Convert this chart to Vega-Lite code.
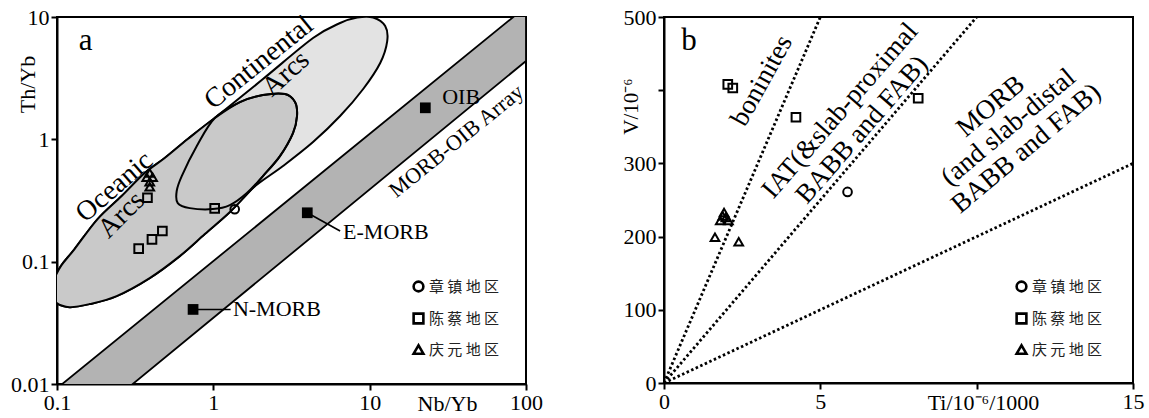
{
  "$schema": "https://vega.github.io/schema/vega-lite/v6.json",
  "background": "white",
  "padding": {"left": 9, "top": 5, "right": 0, "bottom": 0},
  "spacing": 75,
  "config": {
    "view": {"stroke": "black", "strokeWidth": 2},
    "font": "Liberation Serif",
    "text": {"font": "Liberation Serif", "color": "black"},
    "axis": {
      "grid": false, "domainColor": "black", "domainWidth": 2,
      "tickColor": "black", "tickWidth": 2, "tickSize": 6,
      "labelFont": "Liberation Serif", "labelFontSize": 22, "labelColor": "black", "labelPadding": 2,
      "labelFlush": false, "labelOverlap": false,
      "titleFont": "Liberation Serif", "titleFontSize": 22, "titleFontWeight": "normal", "titleColor": "black"
    },
    "legend": {
      "labelFont": "Noto Sans CJK SC", "labelFontSize": 15, "labelColor": "#222",
      "symbolStrokeWidth": 2.6, "symbolSize": 95, "symbolStrokeColor": "black", "symbolFillColor": "transparent",
      "rowPadding": 11, "labelOffset": 3, "padding": 0
    }
  },
  "datasets": {
    "band": [
      {"x": 0.1, "y": 0.00923, "ylow": 0.0031},
      {"x": 100, "y": 12.14, "ylow": 4.37}
    ],
    "bigEllipse": [
      {"x": 0.0895, "y": 0.0575}, {"x": 0.0978, "y": 0.0762}, {"x": 0.1069, "y": 0.0938}, {"x": 0.1295, "y": 0.1268},
      {"x": 0.1818, "y": 0.223}, {"x": 0.2592, "y": 0.3439}, {"x": 0.3638, "y": 0.53}, {"x": 0.4887, "y": 0.7035},
      {"x": 0.6864, "y": 1.006}, {"x": 1.022, "y": 1.494}, {"x": 2.077, "y": 3.11}, {"x": 4.343, "y": 6.73},
      {"x": 6.47, "y": 8.93}, {"x": 8.32, "y": 9.9}, {"x": 10.53, "y": 9.9}, {"x": 12.57, "y": 8.44},
      {"x": 12.95, "y": 6.36}, {"x": 11.68, "y": 4.21}, {"x": 9.09, "y": 2.58}, {"x": 6.47, "y": 1.55},
      {"x": 4.343, "y": 0.95}, {"x": 2.79, "y": 0.605}, {"x": 1.791, "y": 0.4}, {"x": 1.276, "y": 0.2543},
      {"x": 0.882, "y": 0.168}, {"x": 0.61, "y": 0.111}, {"x": 0.3917, "y": 0.0734}, {"x": 0.2406, "y": 0.0523},
      {"x": 0.1615, "y": 0.045}, {"x": 0.1203, "y": 0.0425}, {"x": 0.0978, "y": 0.0467}
    ],
    "oceanic": [
      {"x": 0.0895, "y": 0.0575}, {"x": 0.0978, "y": 0.0762}, {"x": 0.1069, "y": 0.0938}, {"x": 0.1295, "y": 0.1268},
      {"x": 0.1818, "y": 0.223}, {"x": 0.2592, "y": 0.3439}, {"x": 0.3638, "y": 0.53}, {"x": 0.4887, "y": 0.7035},
      {"x": 0.6864, "y": 1.006}, {"x": 1.022, "y": 1.494}, {"x": 1.479, "y": 2.018}, {"x": 2.077, "y": 2.302},
      {"x": 2.873, "y": 2.346}, {"x": 3.33, "y": 2.018}, {"x": 3.43, "y": 1.55}, {"x": 3.233, "y": 1.126},
      {"x": 2.668, "y": 0.73}, {"x": 2.077, "y": 0.501}, {"x": 1.791, "y": 0.4}, {"x": 1.276, "y": 0.2543},
      {"x": 0.882, "y": 0.168}, {"x": 0.61, "y": 0.111}, {"x": 0.3917, "y": 0.0734}, {"x": 0.2406, "y": 0.0523},
      {"x": 0.1615, "y": 0.045}, {"x": 0.1203, "y": 0.0425}, {"x": 0.0978, "y": 0.0467}
    ],
    "inner": [
      {"x": 1.022, "y": 1.494}, {"x": 1.479, "y": 2.018}, {"x": 2.077, "y": 2.302}, {"x": 2.873, "y": 2.346},
      {"x": 3.33, "y": 2.018}, {"x": 3.43, "y": 1.55}, {"x": 3.233, "y": 1.126}, {"x": 2.668, "y": 0.73},
      {"x": 2.077, "y": 0.501}, {"x": 1.639, "y": 0.364}, {"x": 1.276, "y": 0.29}, {"x": 0.993, "y": 0.269},
      {"x": 0.707, "y": 0.274}, {"x": 0.592, "y": 0.301}, {"x": 0.583, "y": 0.378}, {"x": 0.628, "y": 0.501},
      {"x": 0.784, "y": 0.882}
    ],
    "leaders": [
      {"id": "N-MORB", "x": 0.742, "y": 0.0407}, {"id": "N-MORB", "x": 1.29, "y": 0.0407},
      {"id": "E-MORB", "x": 3.99, "y": 0.251}, {"id": "E-MORB", "x": 6.47, "y": 0.178}
    ],
    "refPoints": [
      {"name": "OIB", "x": 22.7, "y": 1.81},
      {"name": "E-MORB", "x": 3.99, "y": 0.251},
      {"name": "N-MORB", "x": 0.742, "y": 0.0407}
    ],
    "samplesA": [
      {"region": "章镇地区", "x": 1.37, "y": 0.268},
      {"region": "陈蔡地区", "x": 0.333, "y": 0.128},
      {"region": "陈蔡地区", "x": 0.405, "y": 0.152},
      {"region": "陈蔡地区", "x": 0.472, "y": 0.178},
      {"region": "陈蔡地区", "x": 1.02, "y": 0.273},
      {"region": "陈蔡地区", "x": 0.379, "y": 0.333},
      {"region": "庆元地区", "x": 0.392, "y": 0.53},
      {"region": "庆元地区", "x": 0.375, "y": 0.49},
      {"region": "庆元地区", "x": 0.409, "y": 0.49},
      {"region": "庆元地区", "x": 0.392, "y": 0.45},
      {"region": "庆元地区", "x": 0.392, "y": 0.41}
    ],
    "boundaries": [
      {"line": "Ti/V=10", "ti": 0, "v": 0}, {"line": "Ti/V=10", "ti": 5, "v": 500},
      {"line": "Ti/V=20", "ti": 0, "v": 0}, {"line": "Ti/V=20", "ti": 10, "v": 500},
      {"line": "Ti/V=50", "ti": 0, "v": 0}, {"line": "Ti/V=50", "ti": 15, "v": 300}
    ],
    "samplesB": [
      {"region": "章镇地区", "ti": 5.87, "v": 261},
      {"region": "陈蔡地区", "ti": 2.04, "v": 408},
      {"region": "陈蔡地区", "ti": 2.2, "v": 403},
      {"region": "陈蔡地区", "ti": 4.22, "v": 363},
      {"region": "陈蔡地区", "ti": 8.13, "v": 389},
      {"region": "庆元地区", "ti": 1.8, "v": 222},
      {"region": "庆元地区", "ti": 1.88, "v": 228},
      {"region": "庆元地区", "ti": 1.92, "v": 233},
      {"region": "庆元地区", "ti": 1.98, "v": 226},
      {"region": "庆元地区", "ti": 2.06, "v": 222},
      {"region": "庆元地区", "ti": 1.63, "v": 199},
      {"region": "庆元地区", "ti": 2.39, "v": 193}
    ]
  },
  "resolve": {"scale": {"shape": "independent"}, "legend": {"shape": "independent"}},
  "hconcat": [
    {
      "width": 469,
      "height": 367,
      "encoding": {
        "x": {"field": "x", "type": "quantitative",
              "scale": {"type": "log", "domain": [0.1, 100], "nice": false},
              "axis": {"values": [0.1, 1, 10, 100], "format": "~g", "title": "Nb/Yb",
                       "titleX": 390, "titleY": 19, "titleAlign": "center", "titleBaseline": "middle"}},
        "y": {"field": "y", "type": "quantitative",
              "scale": {"type": "log", "domain": [0.01, 10], "nice": false},
              "axis": {"values": [0.01, 0.1, 1, 10], "format": "~g", "title": "Th/Yb",
                       "titleX": -30, "titleY": 67, "titleAlign": "center", "titleBaseline": "middle", "titleAngle": 270}}
      },
      "layer": [
        {
          "data": {"name": "band"},
          "mark": {"type": "area", "clip": true, "stroke": "black", "strokeWidth": 1.8, "fill": "#b3b3b3"},
          "encoding": {"y2": {"field": "ylow"}}
        },
        {
          "data": {"name": "bigEllipse"},
          "mark": {"type": "line", "interpolate": "cardinal-closed", "clip": true, "strokeWidth": 2},
          "encoding": {"order": {"value": null}, "fill": {"value": "#e3e3e3"}, "stroke": {"value": "black"}}
        },
        {
          "data": {"name": "oceanic"},
          "mark": {"type": "line", "interpolate": "cardinal-closed", "clip": true, "strokeWidth": 2},
          "encoding": {"order": {"value": null}, "fill": {"value": "#c9c9c9"}, "stroke": {"value": "black"}}
        },
        {
          "data": {"name": "inner"},
          "mark": {"type": "line", "interpolate": "cardinal-closed", "clip": true, "strokeWidth": 2},
          "encoding": {"order": {"value": null}, "stroke": {"value": "black"}}
        },
        {
          "data": {"name": "leaders"},
          "mark": {"type": "line", "strokeWidth": 1.6, "color": "black"},
          "encoding": {"detail": {"field": "id"}, "order": {"value": null}}
        },
        {
          "data": {"name": "refPoints"},
          "mark": {"type": "square", "size": 115, "color": "black", "opacity": 1}
        },
        {
          "data": {"name": "samplesA"},
          "mark": {"type": "point", "filled": false, "color": "black", "strokeWidth": 2, "size": 75, "opacity": 1},
          "encoding": {
            "shape": {"field": "region", "type": "nominal",
                      "scale": {"domain": ["章镇地区", "陈蔡地区", "庆元地区"], "range": ["circle", "square", "triangle-up"]},
                      "legend": {"title": null, "orient": "none", "legendX": 354, "legendY": 262,
                                 "labelExpr": "join(split(datum.label, ''), ' ')"}}
          }
        },
        {
          "data": {"values": [{"text": "a", "x": 0.1523, "y": 6.36}]},
          "mark": {"type": "text", "fontSize": 31, "align": "center", "baseline": "middle"},
          "encoding": {"text": {"field": "text"}}
        },
        {
          "data": {"values": [{"text": "Continental", "x": 1.957, "y": 4.21}]},
          "mark": {"type": "text", "fontSize": 28, "angle": 321, "align": "center", "baseline": "middle"},
          "encoding": {"text": {"field": "text"}}
        },
        {
          "data": {"values": [{"text": "Arcs", "x": 2.915, "y": 3.42}]},
          "mark": {"type": "text", "fontSize": 28, "angle": 318, "align": "center", "baseline": "middle"},
          "encoding": {"text": {"field": "text"}}
        },
        {
          "data": {"values": [{"text": "Oceanic", "x": 0.2337, "y": 0.407}]},
          "mark": {"type": "text", "fontSize": 28, "angle": 319, "align": "center", "baseline": "middle"},
          "encoding": {"text": {"field": "text"}}
        },
        {
          "data": {"values": [{"text": "Arcs", "x": 0.259, "y": 0.24}]},
          "mark": {"type": "text", "fontSize": 28, "angle": 315, "align": "center", "baseline": "middle"},
          "encoding": {"text": {"field": "text"}}
        },
        {
          "data": {"values": [{"text": "MORB-OIB Array", "x": 35.8, "y": 0.968}]},
          "mark": {"type": "text", "fontSize": 22, "angle": 321, "align": "center", "baseline": "middle"},
          "encoding": {"text": {"field": "text"}}
        },
        {
          "data": {"values": [
            {"text": "OIB", "x": 29.1, "y": 2.22},
            {"text": "E-MORB", "x": 6.76, "y": 0.1746},
            {"text": "N-MORB", "x": 1.334, "y": 0.041}
          ]},
          "mark": {"type": "text", "fontSize": 22, "align": "left", "baseline": "middle"},
          "encoding": {"text": {"field": "text"}}
        }
      ]
    },
    {
      "width": 469,
      "height": 366,
      "encoding": {
        "x": {"field": "ti", "type": "quantitative",
              "scale": {"domain": [0, 15], "nice": false, "zero": false},
              "axis": {"values": [0, 5, 10, 15], "labelExpr": "datum.value == 10 ? '' : datum.label",
                       "title": "Ti/10⁻⁶/1000", "titleX": 319, "titleY": 19, "titleAlign": "center", "titleBaseline": "middle"}},
        "y": {"field": "v", "type": "quantitative",
              "scale": {"domain": [0, 500], "nice": false, "zero": false},
              "axis": {"values": [0, 100, 200, 300, 400, 500], "labelExpr": "datum.value == 400 ? '' : datum.label",
                       "title": "V/10⁻⁶", "titleX": -33, "titleY": 89, "titleAlign": "center", "titleBaseline": "middle", "titleAngle": 270, "titleFontSize": 21}}
      },
      "layer": [
        {
          "data": {"name": "boundaries"},
          "mark": {"type": "line", "color": "black", "strokeWidth": 2.8, "strokeDash": [2.5, 2.5], "strokeCap": "butt"},
          "encoding": {"detail": {"field": "line"}, "order": {"value": null}}
        },
        {
          "data": {"name": "samplesB"},
          "mark": {"type": "point", "filled": false, "color": "black", "strokeWidth": 2, "size": 75, "opacity": 1},
          "encoding": {
            "shape": {"field": "region", "type": "nominal",
                      "scale": {"domain": ["章镇地区", "陈蔡地区", "庆元地区"], "range": ["circle", "square", "triangle-up"]},
                      "legend": {"title": null, "orient": "none", "legendX": 350, "legendY": 262,
                                 "labelExpr": "join(split(datum.label, ''), ' ')"}}
          }
        },
        {
          "data": {"values": [{"text": "b", "ti": 0.8, "v": 467}]},
          "mark": {"type": "text", "fontSize": 31, "align": "center", "baseline": "middle"},
          "encoding": {"text": {"field": "text"}}
        },
        {
          "data": {"values": [{"text": "boninites", "ti": 3.13, "v": 413}]},
          "mark": {"type": "text", "fontSize": 27, "angle": 299, "align": "center", "baseline": "middle"},
          "encoding": {"text": {"field": "text"}}
        },
        {
          "data": {"values": [{"text": ["IAT(&slab-proximal", "BABB and FAB)"], "ti": 5.63, "v": 372}]},
          "mark": {"type": "text", "fontSize": 27, "angle": 311, "align": "center", "baseline": "middle", "lineHeight": 29},
          "encoding": {"text": {"field": "text"}}
        },
        {
          "data": {"values": [{"text": ["MORB", "(and slab-distal", "BABB and FAB)"], "ti": 10.45, "v": 378}]},
          "mark": {"type": "text", "fontSize": 27, "angle": 320, "align": "center", "baseline": "middle", "lineHeight": 27.5},
          "encoding": {"text": {"field": "text"}}
        }
      ]
    }
  ]
}
